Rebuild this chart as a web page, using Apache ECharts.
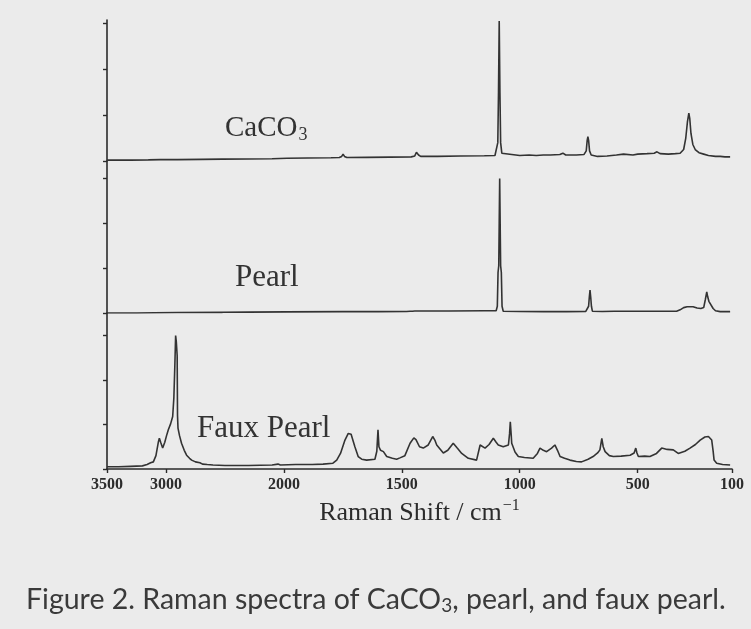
<!DOCTYPE html>
<html>
<head>
<meta charset="utf-8">
<style>
  html, body { margin: 0; padding: 0; background: #ebebeb; }
  #chart { width: 751px; height: 629px; }
</style>
<script src="https://cdn.jsdelivr.net/npm/echarts@6/dist/echarts.min.js"></script>
</head>
<body>
<div id="chart"></div>
<script>
// Raman spectra: shift (cm^-1) and relative intensity (arbitrary units per panel)
const caco3Shift = [3500,3300,3150,3050,2900,2700,2524,2300,2100,1987,1900,1800,1765,1755,1749,1743,1733,1650,1550,1460,1445,1438,1434,1429,1420,1350,1250,1150,1105,1098,1093,1090,1087,1084,1081,1076,1068,1000,960,930,900,870,830,817,805,760,728,718,714,711,708,704,697,670,630,590,560,520,500,460,430,418,405,370,340,320,305,296,289,283,279,274,266,256,240,220,200,170,150,130,108];
const caco3Int   = [0.02,0.02,0.025,0.03,0.03,0.035,0.04,0.045,0.05,0.06,0.065,0.07,0.075,0.1,0.15,0.1,0.075,0.08,0.085,0.09,0.11,0.19,0.2,0.13,0.1,0.1,0.11,0.115,0.12,0.15,0.4,1.5,3.05,1.5,0.4,0.17,0.13,0.12,0.13,0.12,0.13,0.13,0.14,0.17,0.13,0.13,0.14,0.22,0.45,0.53,0.45,0.22,0.13,0.1,0.11,0.13,0.15,0.13,0.15,0.16,0.17,0.2,0.16,0.15,0.16,0.17,0.25,0.5,0.85,1.04,0.92,0.6,0.36,0.25,0.18,0.15,0.12,0.1,0.1,0.09,0.09];

const pearlShift = [3500,3250,3100,2900,2520,2300,1990,1750,1600,1480,1465,1459,1455,1445,1300,1150,1100,1095,1092,1089,1087,1085,1083,1081,1078,1075,1070,1000,900,800,720,712,708,705,702,699,696,692,650,600,500,400,335,320,305,290,265,248,232,220,213,207,203,198,190,180,170,150,108];
const pearlInt   = [0.0,0.0,0.005,0.01,0.015,0.02,0.025,0.03,0.03,0.035,0.04,0.07,0.04,0.045,0.045,0.05,0.05,0.15,0.9,1.05,2.0,2.99,2.0,1.05,0.9,0.15,0.04,0.035,0.03,0.03,0.035,0.04,0.15,0.35,0.51,0.35,0.15,0.04,0.035,0.04,0.04,0.04,0.04,0.07,0.12,0.14,0.14,0.11,0.1,0.12,0.3,0.47,0.36,0.26,0.22,0.1,0.05,0.03,0.03];

const fauxShift = [3500,3400,3300,3200,3160,3130,3107,3085,3065,3056,3045,3028,3010,2995,2980,2960,2943,2933,2925,2918,2912,2905,2902,2898,2885,2868,2845,2825,2800,2782,2750,2712,2690,2650,2601,2500,2400,2300,2200,2100,2050,2030,1950,1880,1834,1792,1776,1760,1741,1727,1715,1699,1685,1670,1649,1614,1606,1601,1597,1590,1578,1564,1540,1522,1508,1487,1465,1449,1440,1425,1409,1388,1369,1360,1352,1324,1305,1282,1265,1246,1218,1183,1168,1160,1147,1130,1112,1100,1091,1070,1048,1043,1040,1036,1034,1020,1006,980,943,925,914,900,886,865,851,840,829,810,787,760,738,710,689,670,660,652,646,638,620,603,570,532,515,508,503,497,470,448,420,398,375,349,328,300,278,255,235,215,200,186,180,176,165,140,108];
const fauxInt   = [0.05,0.05,0.06,0.07,0.1,0.14,0.16,0.3,0.6,0.69,0.6,0.47,0.6,0.75,0.88,1.02,1.18,1.6,2.3,3.0,2.85,2.55,1.2,0.92,0.75,0.58,0.42,0.31,0.24,0.2,0.16,0.14,0.11,0.1,0.09,0.08,0.08,0.08,0.085,0.09,0.11,0.09,0.1,0.1,0.11,0.13,0.2,0.35,0.65,0.8,0.78,0.5,0.28,0.22,0.2,0.22,0.4,0.88,0.5,0.42,0.39,0.28,0.24,0.22,0.25,0.3,0.58,0.7,0.66,0.5,0.47,0.54,0.73,0.65,0.54,0.36,0.42,0.58,0.47,0.35,0.24,0.2,0.54,0.5,0.47,0.55,0.69,0.6,0.54,0.5,0.54,0.8,1.06,0.75,0.58,0.38,0.28,0.26,0.24,0.35,0.47,0.42,0.39,0.47,0.54,0.42,0.28,0.24,0.2,0.17,0.16,0.22,0.28,0.36,0.43,0.69,0.5,0.39,0.3,0.28,0.29,0.31,0.36,0.47,0.36,0.28,0.29,0.28,0.35,0.47,0.44,0.43,0.35,0.4,0.47,0.55,0.65,0.72,0.73,0.65,0.4,0.2,0.13,0.1,0.09];

// Shift-axis tick labels
const shiftTicks = [3500, 3000, 2000, 1500, 1000, 500, 100];
// Intensity ticks drawn on each panel
const intensityTicks = [0, 1, 2, 3];

// Panel names
const panelNames = ['CaCO3', 'Pearl', 'Faux Pearl'];

// The shift axis is drawn at half scale above 2000 cm^-1.
const BREAK = 2000;
const toAxis = s => (s <= BREAK ? s : BREAK + (s - BREAK) / 2);
const fromAxis = u => (u <= BREAK ? u : BREAK + (u - BREAK) * 2);

const ink = '#2b2b2b';
const lineInk = '#333333';
const serif = 'Liberation Serif';

const panels = [
  { shift: caco3Shift, inten: caco3Int, top: 20, height: 141, max: 3.07 },
  { shift: pearlShift, inten: pearlInt, top: 161, height: 152, max: 152 / 45 },
  { shift: fauxShift, inten: fauxInt, top: 313, height: 156, max: 156 / 44.5 }
];

const grids = [], xAxes = [], yAxes = [], series = [];
panels.forEach((p, i) => {
  grids.push({ left: 107, right: 19, top: p.top, height: p.height });
  const last = i === panels.length - 1;
  xAxes.push({
    type: 'value', gridIndex: i,
    min: toAxis(100), max: toAxis(3500), inverse: true,
    show: last,
    axisLine: { show: true, onZero: false, lineStyle: { color: ink, width: 1.6 } },
    axisTick: { show: true, length: 4, lineStyle: { color: ink, width: 1.4 },
                customValues: shiftTicks.map(toAxis) },
    axisLabel: {
      show: true, margin: 8, color: ink,
      fontFamily: serif, fontSize: 16, fontWeight: 'bold',
      customValues: shiftTicks.map(toAxis),
      formatter: v => String(Math.round(fromAxis(v)))
    },
    splitLine: { show: false },
    name: last ? '{a|Raman Shift / cm}{s|\u22121}' : '',
    nameLocation: 'middle', nameGap: 29,
    nameTextStyle: {
      rich: {
        a: { fontFamily: serif, fontSize: 26, color: ink, lineHeight: 30 },
        s: { fontFamily: serif, fontSize: 16, color: ink, lineHeight: 30,
             verticalAlign: 'top', padding: [0, 0, 10, 1] }
      }
    }
  });
  yAxes.push({
    type: 'value', gridIndex: i, min: 0, max: p.max, interval: 1,
    axisLine: { show: true, lineStyle: { color: ink, width: 1.6 } },
    axisTick: { show: true, length: 4, lineStyle: { color: ink, width: 1.4 },
                customValues: intensityTicks },
    axisLabel: { show: false },
    splitLine: { show: false }
  });
  series.push({
    type: 'line', xAxisIndex: i, yAxisIndex: i,
    showSymbol: false, silent: true,
    lineStyle: { color: lineInk, width: 1.6 },
    data: p.shift.map((s, k) => [toAxis(s), p.inten[k]])
  });
});

const labelRich = {
  a: { fontFamily: serif, fontSize: 29, fill: '#333' },
  s: { fontFamily: serif, fontSize: 18, fill: '#333', padding: [14, 0, 0, 1] }
};
const nameRich = { a: { fontFamily: serif, fontSize: 31, fill: '#333' } };

const chart = echarts.init(document.getElementById('chart'), null, { renderer: 'canvas' });
chart.setOption({
  animation: false,
  backgroundColor: '#ebebeb',
  grid: grids,
  xAxis: xAxes,
  yAxis: yAxes,
  series: series,
  title: {
    text: '{a|Figure 2. Raman spectra of CaCO}{s|3}{a|, pearl, and faux pearl.}',
    left: 21, top: 578,
    textStyle: {
      fontWeight: 'normal',
      rich: {
        a: { fontFamily: 'Lato', fontSize: 28.5, fontWeight: 'normal', color: '#3a3a3a', lineHeight: 34 },
        s: { fontFamily: 'Lato', fontSize: 19, fontWeight: 'normal', color: '#3a3a3a', lineHeight: 34, padding: [12, 0, 0, 0] }
      }
    }
  },
  graphic: [
    { type: 'text', left: 225, top: 114,
      style: { text: '{a|CaCO}{s|3}', rich: labelRich } },
    { type: 'text', left: 235, top: 262,
      style: { text: '{a|' + panelNames[1] + '}', rich: nameRich } },
    { type: 'text', left: 197, top: 413,
      style: { text: '{a|' + panelNames[2] + '}', rich: nameRich } }
  ]
});
</script>
</body>
</html>
